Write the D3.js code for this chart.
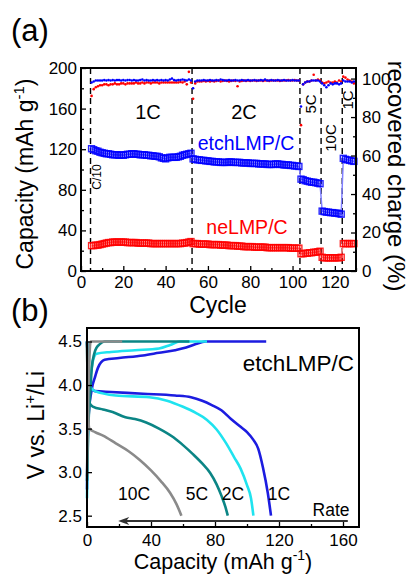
<!DOCTYPE html>
<html>
<head>
<meta charset="utf-8">
<script src="https://cdn.jsdelivr.net/npm/d3@7"></script>
<style>
  body { margin: 0; background: #fff; }
  svg { font-family: "Liberation Sans", Arial, sans-serif; }
</style>
</head>
<body>
<svg width="410" height="575"></svg>
<script>
// ---------- panel (a): rate cycling ----------
const firstCycle = 5;
const rateSwitches = [4.5, 52.5, 103.5, 113.5, 123.5];

// capacity (mAh/g), one value per cycle from cycle 5
const etchCapacity = [
  // 1C (5-52)
  120.5, 119.5, 118.5, 118, 117, 116.5, 116, 115.5, 115.5, 115,
  114.5, 114.5, 114.5, 114, 114.5, 114, 114.5, 115, 115, 115.5,
  115.5, 115, 115, 114.5, 114.5, 114.5, 114, 114, 113.5, 113.5,
  113, 113, 112.5, 111.5, 111, 110.5, 111.5, 112, 112, 112,
  112, 112.5, 113, 114, 114.5, 115, 115.5, 116,
  // 2C (53-103)
  110.5, 110, 109.5, 109.5, 109, 109, 108.5, 108.5, 108, 108,
  107.5, 107.5, 107.5, 107, 107, 107, 107, 107.5, 107.5, 107,
  107, 107, 107, 106.5, 106.5, 106.5, 106.5, 106, 106, 106,
  106, 105.5, 105.5, 105.5, 105.5, 105, 105, 105, 105, 105.5,
  105.5, 105, 105, 104.5, 104.5, 104.5, 104, 104, 103.5, 103.5, 103,
  // 5C (104-113)
  90.5, 90, 89, 88.5, 88, 87.5, 87.5, 87, 86.5, 86,
  // 10C (114-123)
  59, 58.5, 58, 58, 57.5, 57.5, 57, 57, 56.5, 56,
  // 1C (124-129)
  111, 110, 109.5, 109, 108.5, 108
];

const neCapacity = [
  25, 25, 25.5, 25.5, 26, 26.5, 27, 27.5, 28, 28,
  28.5, 28.5, 28.5, 28.5, 28.5, 28.5, 28.5, 28, 28, 28,
  28, 28, 27.5, 27.5, 27.5, 27.5, 27.5, 27.5, 27, 27,
  27, 27, 27, 27, 27, 27, 27, 27, 27, 27,
  27, 27, 27, 27.5, 27.5, 28, 28.5, 29,
  27, 27, 27, 26.5, 26.5, 26.5, 26.5, 26.5, 26, 26,
  26, 26, 26, 25.5, 25.5, 25.5, 25.5, 25, 25, 25,
  25, 24.5, 24.5, 24.5, 24, 24, 24, 24, 24, 23.5,
  23.5, 23.5, 23.5, 23.5, 23.5, 23, 23, 23, 23, 23,
  23, 23, 23, 23, 23, 23, 22.5, 22.5, 22.5, 22.5, 22.5,
  17, 17, 17.5, 17.5, 18, 18, 18.5, 18.5, 19, 19.5,
  13.5, 13, 13, 13, 13, 13, 13, 13, 13, 13.5,
  27, 27, 27, 27, 27, 27
];

// recovered charge (%), same cycles
const etchRecovered = [
  98, 98.5, 99, 99, 99, 99, 99.2, 99, 99.2, 99,
  99.2, 99, 99.2, 99.2, 99, 99.2, 99, 99.2, 99.3, 99,
  99.2, 99, 99, 99.2, 99.5, 99, 99.2, 99, 99, 99.2,
  99, 99.2, 99, 99.3, 99, 99.2, 99, 99.5, 100, 99.2,
  99, 99.2, 99.2, 99.5, 99.2, 99, 99.5, 99,
  95, 98.5, 99, 99, 99, 99.2, 99, 99, 99.2, 99,
  99, 99.2, 99, 99.5, 99.2, 99, 99, 99.2, 99, 99,
  99.2, 99, 99, 99.3, 99, 99, 99.2, 99, 99, 99.2,
  99, 99, 99.2, 99, 99.5, 99, 99, 99.2, 99, 99,
  99.2, 99, 99, 99.2, 99, 99, 99, 99.2, 99, 99, 99,
  85.5, 97, 98, 98.5, 98.5, 99, 99, 99, 99, 98.5,
  97.5, 96.5, 95.5, 96.5, 97.5, 97, 97.5, 97.5, 97, 97.5,
  99, 98.5, 98.5, 98.5, 98, 98.5
];

const neRecovered = [
  91, 94.5, 95.5, 96, 96.5, 96.5, 97, 97, 96.5, 97,
  97, 97.5, 97, 97, 97.5, 97.5, 97, 97.5, 97.5, 97.5,
  97.5, 98, 97.5, 97.5, 98, 97.5, 98, 98, 97.5, 98,
  98, 98, 97.5, 98, 98, 98, 98, 98, 98, 98,
  98, 98, 98.2, 98, 98.5, 97, 103.5, 98,
  89.5, 97.5, 98.5, 98.5, 98.5, 98.8, 98.5, 98.8, 98.5, 98.8,
  98.5, 98.8, 99, 98.5, 98.8, 99, 98.8, 98.5, 98.8, 99,
  98.8, 96, 98.5, 98.8, 99, 98.8, 99, 98.8, 99, 99,
  98.8, 99, 99, 98.8, 99, 99, 98.8, 99, 99, 99,
  99, 98.8, 99, 99, 99, 99.2, 99, 99, 99.2, 99, 99,
  75.8, 97, 98, 98.5, 98.5, 99, 102, 99, 99.5, 99,
  98, 97.5, 98, 98.5, 98, 98, 98.5, 98, 99, 98.5,
  101, 100.5, 99.5, 99, 98.5, 97.5
];

// ---------- panel (b): voltage profiles, [capacity, V] ----------
const charge1C = [[0, 2.8], [0.3, 3.3], [1.2, 3.7], [2.5, 3.9], [3.5, 4.0], [4.8, 4.08], [6.9, 4.2], [11, 4.29], [20, 4.31], [35, 4.34], [45, 4.37], [55, 4.4], [62, 4.43], [68, 4.47], [74, 4.5], [112, 4.5]];
const discharge1C = [[0, 4.5], [0.8, 4.2], [2.5, 3.97], [5, 3.93], [15, 3.92], [35, 3.9], [55, 3.88], [65, 3.86], [72, 3.82], [78, 3.77], [84, 3.71], [90, 3.61], [96, 3.52], [100, 3.46], [104, 3.37], [107, 3.27], [110, 3.05], [113, 2.76], [115, 2.5]];
const charge2C = [[0, 2.7], [0.6, 3.5], [1.5, 3.95], [3, 4.2], [4, 4.3], [6, 4.36], [15, 4.38], [30, 4.4], [45, 4.42], [52, 4.46], [58, 4.5], [75, 4.5]];
const discharge2C = [[0, 4.5], [0.8, 4.2], [2.5, 3.97], [5, 3.93], [18, 3.88], [39, 3.86], [50, 3.82], [60, 3.75], [68, 3.68], [75, 3.6], [81, 3.49], [87, 3.33], [92, 3.17], [96, 3.04], [100, 2.85], [102.5, 2.7], [104, 2.5]];
const charge5C = [[0, 2.9], [0.8, 3.5], [2, 3.9], [3, 4.2], [4.5, 4.36], [6, 4.43], [8, 4.47], [11, 4.5], [64, 4.5]];
const discharge5C = [[0, 4.5], [0.5, 4.0], [2, 3.78], [4, 3.75], [10, 3.72], [16, 3.69], [24, 3.63], [30, 3.61], [37, 3.57], [45, 3.5], [54, 3.4], [60, 3.31], [66, 3.21], [72, 3.1], [77, 2.99], [81, 2.86], [84, 2.73], [86.5, 2.6], [88, 2.5]];
const charge10C = [[0, 2.95], [0.5, 3.6], [1, 4.0], [1.5, 4.3], [2.2, 4.5], [22, 4.5]];
const discharge10C = [[0, 4.5], [0.5, 3.8], [1.5, 3.5], [5, 3.46], [10, 3.42], [18, 3.33], [26, 3.24], [33, 3.14], [40, 3.02], [46, 2.9], [52, 2.76], [56, 2.63], [59, 2.5]];

const rateNames = ["1C", "2C", "5C", "10C"];
const rateColors = ["#1c1ce0", "#1fe3ef", "#0b8585", "#8a8a8a"];

const svg = d3.select("svg");
const font = 17;

// ---------- helpers ----------
function styleAxis(g) {
  g.select(".domain").remove();
  g.selectAll(".tick line").attr("stroke", "#000").attr("stroke-width", 1.3);
  g.selectAll("text").attr("font-size", font).attr("fill", "#000")
    .attr("font-family", "Liberation Sans, Arial, sans-serif");
}

// ---------- panel (a) ----------
const a = { left: 81, right: 356, top: 68, bottom: 271 };
const xA = d3.scaleLinear().domain([0, 130]).range([a.left, a.right]);
const yA = d3.scaleLinear().domain([0, 200]).range([a.bottom, a.top]);
const yR = d3.scaleLinear().domain([0, 105.5]).range([a.bottom, a.top]);

const cycles = etchCapacity.map((d, i) => firstCycle + i);

svg.append("g")
  .selectAll("line")
  .data(rateSwitches)
  .enter()
  .append("line")
  .attr("x1", d => xA(d))
  .attr("x2", d => xA(d))
  .attr("y1", a.top)
  .attr("y2", a.bottom)
  .attr("stroke", "#000")
  .attr("stroke-width", 1.4)
  .attr("stroke-dasharray", "6,4");

const capSeries = [
  { values: neCapacity, color: "#ff0000", light: "#ff8080" },
  { values: etchCapacity, color: "#0000ff", light: "#8080ff" }
];

capSeries.forEach(s => {
  const line = d3.line()
    .x((d, i) => xA(cycles[i]))
    .y(d => yA(d));
  svg.append("path")
    .attr("d", line(s.values))
    .attr("fill", "none")
    .attr("stroke", s.light)
    .attr("stroke-width", 1.5);
  svg.append("g")
    .selectAll("rect")
    .data(s.values)
    .enter()
    .append("rect")
    .attr("x", (d, i) => xA(cycles[i]) - 3)
    .attr("y", d => yA(d) - 3)
    .attr("width", 6)
    .attr("height", 6)
    .attr("fill", "none")
    .attr("stroke", s.color)
    .attr("stroke-opacity", 0.85)
    .attr("stroke-width", 1.4);
});

[{ values: neRecovered, color: "#ff0000" }, { values: etchRecovered, color: "#0000ff" }]
  .forEach(s => {
    svg.append("g")
      .selectAll("circle")
      .data(s.values)
      .enter()
      .append("circle")
      .attr("cx", (d, i) => xA(cycles[i]))
      .attr("cy", d => yR(d))
      .attr("r", 1.3)
      .attr("fill", s.color);
  });

svg.append("g")
  .attr("transform", `translate(0,${a.bottom})`)
  .call(d3.axisBottom(xA).tickValues(d3.range(0, 121, 20)).tickSize(-5).tickPadding(5))
  .call(styleAxis);
svg.append("g")
  .attr("transform", `translate(0,${a.bottom})`)
  .call(d3.axisBottom(xA).tickValues(d3.range(10, 131, 20)).tickSize(-3).tickFormat(""))
  .call(styleAxis);
svg.append("g")
  .attr("transform", `translate(${a.left},0)`)
  .call(d3.axisLeft(yA).tickValues(d3.range(0, 201, 40)).tickSize(-5).tickPadding(4))
  .call(styleAxis);
svg.append("g")
  .attr("transform", `translate(${a.left},0)`)
  .call(d3.axisLeft(yA).tickValues(d3.range(20, 200, 40)).tickSize(-3).tickFormat(""))
  .call(styleAxis);
svg.append("g")
  .attr("transform", `translate(${a.right},0)`)
  .call(d3.axisRight(yR).tickValues(d3.range(0, 101, 20)).tickSize(-5).tickPadding(6))
  .call(styleAxis);
svg.append("g")
  .attr("transform", `translate(${a.right},0)`)
  .call(d3.axisRight(yR).tickValues(d3.range(10, 101, 20)).tickSize(-3).tickFormat(""))
  .call(styleAxis);

svg.append("rect")
  .attr("x", a.left).attr("y", a.top)
  .attr("width", a.right - a.left).attr("height", a.bottom - a.top)
  .attr("fill", "none").attr("stroke", "#000").attr("stroke-width", 2);

// labels (a)
svg.append("text").attr("x", 11).attr("y", 41).attr("font-size", 31).text("(a)");
svg.append("text").attr("x", 148).attr("y", 119).attr("font-size", 20).attr("text-anchor", "middle").text("1C");
svg.append("text").attr("x", 244).attr("y", 119).attr("font-size", 20).attr("text-anchor", "middle").text("2C");
svg.append("text").attr("x", 246).attr("y", 150).attr("font-size", 19.5).attr("text-anchor", "middle").attr("fill", "#0000ff").text("etchLMP/C");
svg.append("text").attr("x", 247).attr("y", 234).attr("font-size", 19.5).attr("text-anchor", "middle").attr("fill", "#ff0000").text("neLMP/C");

const rotLabels = [
  { text: "C/10", x: 101, y: 177, size: 12 },
  { text: "5C", x: 316, y: 104, size: 15 },
  { text: "10C", x: 336, y: 138, size: 15 },
  { text: "1C", x: 353, y: 100, size: 15 }
];
rotLabels.forEach(d => {
  svg.append("text")
    .attr("transform", `translate(${d.x},${d.y}) rotate(-90)`)
    .attr("text-anchor", "middle")
    .attr("font-size", d.size)
    .text(d.text);
});

svg.append("text").attr("x", 218).attr("y", 313).attr("font-size", 23).attr("text-anchor", "middle").text("Cycle");
const capTitleA = svg.append("text")
  .attr("transform", "translate(33,174) rotate(-90)")
  .attr("font-size", 23).attr("text-anchor", "middle");
capTitleA.append("tspan").text("Capacity (mAh g");
capTitleA.append("tspan").attr("font-size", 15).attr("dy", -9).text("-1");
capTitleA.append("tspan").attr("dy", 9).text(")");

svg.append("text")
  .attr("transform", "translate(388,176) rotate(90)")
  .attr("font-size", 24).attr("text-anchor", "middle")
  .text("recovered charge (%)");

// ---------- panel (b) ----------
const b = { left: 87, right: 359, top: 328, bottom: 527 };
const xB = d3.scaleLinear().domain([0, 170]).range([b.left, b.right]);
const yB = d3.scaleLinear().domain([2.37, 4.655]).range([b.bottom, b.top]);

const curves = [
  [charge1C, discharge1C], [charge2C, discharge2C],
  [charge5C, discharge5C], [charge10C, discharge10C]
];
const vLine = d3.line()
  .x(d => xB(d[0]))
  .y(d => yB(d[1]))
  .curve(d3.curveMonotoneX);

curves.forEach((pair, i) => {
  pair.forEach(c => {
    svg.append("path")
      .attr("d", vLine(c))
      .attr("fill", "none")
      .attr("stroke", rateColors[i])
      .attr("stroke-width", 2.6);
  });
});

svg.append("g")
  .attr("transform", `translate(0,${b.bottom})`)
  .call(d3.axisBottom(xB).tickValues(d3.range(0, 161, 40)).tickSize(-5).tickPadding(7))
  .call(styleAxis);
svg.append("g")
  .attr("transform", `translate(0,${b.bottom})`)
  .call(d3.axisBottom(xB).tickValues(d3.range(20, 170, 40)).tickSize(-3).tickFormat(""))
  .call(styleAxis);
svg.append("g")
  .attr("transform", `translate(${b.left},0)`)
  .call(d3.axisLeft(yB).tickValues([2.5, 3.0, 3.5, 4.0, 4.5]).tickFormat(d3.format(".1f")).tickSize(-5).tickPadding(5))
  .call(styleAxis);

svg.append("rect")
  .attr("x", b.left).attr("y", b.top)
  .attr("width", b.right - b.left).attr("height", b.bottom - b.top)
  .attr("fill", "none").attr("stroke", "#000").attr("stroke-width", 2);

// "Rate" arrow, drawn in data units of panel (b)
const arrowY = yB(2.44);
const arrowFrom = xB(163);
const arrowTo = xB(19.5);
svg.append("line")
  .attr("x1", arrowFrom).attr("x2", arrowTo + 6)
  .attr("y1", arrowY).attr("y2", arrowY)
  .attr("stroke", "#333").attr("stroke-width", 2);
svg.append("path")
  .attr("d", `M${arrowTo},${arrowY} L${arrowTo + 11},${arrowY - 4} L${arrowTo + 8},${arrowY} L${arrowTo + 11},${arrowY + 4} Z`)
  .attr("fill", "#333");

svg.append("text").attr("x", 11).attr("y", 321).attr("font-size", 31).text("(b)");
svg.append("text").attr("x", 354).attr("y", 371).attr("font-size", 22.5).attr("text-anchor", "end").text("etchLMP/C");
const curveLabels = [
  { text: "10C", x: 134 }, { text: "5C", x: 197 },
  { text: "2C", x: 233 }, { text: "1C", x: 279 }
];
curveLabels.forEach(d => {
  svg.append("text").attr("x", d.x).attr("y", 500).attr("font-size", 17.5)
    .attr("text-anchor", "middle").text(d.text);
});
svg.append("text").attr("x", 331).attr("y", 516).attr("font-size", 17.5).attr("text-anchor", "middle").text("Rate");

const capTitleB = svg.append("text")
  .attr("x", 223).attr("y", 569).attr("font-size", 21.5).attr("text-anchor", "middle");
capTitleB.append("tspan").text("Capacity (mAh g");
capTitleB.append("tspan").attr("font-size", 14).attr("dy", -9).text("-1");
capTitleB.append("tspan").attr("dy", 9).text(")");

const vTitle = svg.append("text")
  .attr("transform", "translate(44,425) rotate(-90)")
  .attr("font-size", 23).attr("text-anchor", "middle");
vTitle.append("tspan").text("V vs. Li");
vTitle.append("tspan").attr("font-size", 15).attr("dy", -9).text("+");
vTitle.append("tspan").attr("dy", 9).text("/Li");
</script>
</body>
</html>
